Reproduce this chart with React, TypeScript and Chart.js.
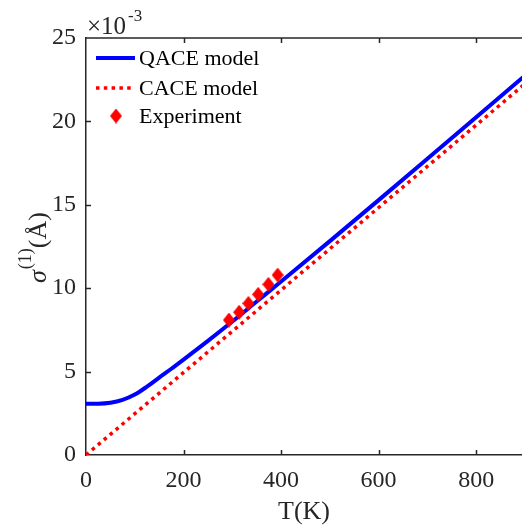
import React, { useEffect, useRef } from 'react';
import { Chart, registerables } from 'chart.js';

Chart.register(...registerables);

// ---- data ----
const qaceT = [0, 25, 50, 75, 100, 125, 150, 175, 200, 250, 300, 350, 400, 500, 600, 700, 800, 900];
const qaceSigma = [3.08, 3.08, 3.13, 3.3, 3.62, 4.1, 4.64, 5.17, 5.72, 6.84, 8.0, 9.2, 10.4, 12.82, 15.28, 17.76, 20.25, 22.75];
const caceT = [0, 900];
const caceSigma = [0, 22.25];
const expT = [293, 314, 333, 353, 374, 393];
const expSigma = [8.09, 8.56, 9.09, 9.63, 10.23, 10.79];
const xTicks = [0, 200, 400, 600, 800];
const yTicks = [0, 5, 10, 15, 20, 25];
const legendLabels = ['QACE model', 'CACE model', 'Experiment'];

const FONT = '"Liberation Serif", "Times New Roman", serif';
const AXIS = '#262626';
const BLUE = '#0000ff';
const RED = '#ff0000';

function makeDiamond(): HTMLCanvasElement {
  const c = document.createElement('canvas');
  const w = 12, h = 15;
  c.width = w; c.height = h;
  const g = c.getContext('2d')!;
  g.fillStyle = RED;
  g.beginPath();
  g.moveTo(w / 2, 0);
  g.lineTo(w, h / 2);
  g.lineTo(w / 2, h);
  g.lineTo(0, h / 2);
  g.closePath();
  g.fill();
  return c;
}

export default function App() {
  const ref = useRef<HTMLCanvasElement>(null);

  useEffect(() => {
    if (!ref.current) return;
    const diamond = makeDiamond();

    const decor = {
      id: 'decor',
      afterDraw(chart: any) {
        const { ctx, chartArea: ca, scales } = chart;
        const xs = scales.x, ys = scales.y;
        ctx.save();
        ctx.strokeStyle = AXIS;
        ctx.lineWidth = 1.5;
        ctx.setLineDash([]);
        // top border
        ctx.beginPath();
        ctx.moveTo(ca.left, ca.top);
        ctx.lineTo(ca.right + 2, ca.top);
        ctx.stroke();
        // inward ticks
        ctx.beginPath();
        xTicks.forEach((v) => {
          if (v === 0) return;
          const px = Math.round(xs.getPixelForValue(v)) + 0.5;
          ctx.moveTo(px, ca.bottom);
          ctx.lineTo(px, ca.bottom - 5);
          ctx.moveTo(px, ca.top);
          ctx.lineTo(px, ca.top + 5);
        });
        yTicks.forEach((v) => {
          if (v === 0 || v === 25) return;
          const py = Math.round(ys.getPixelForValue(v)) + 0.5;
          ctx.moveTo(ca.left, py);
          ctx.lineTo(ca.left + 5, py);
        });
        ctx.stroke();

        // exponent label
        ctx.fillStyle = AXIS;
        ctx.textBaseline = 'alphabetic';
        ctx.textAlign = 'left';
        ctx.font = `25px ${FONT}`;
        ctx.fillText('\u00d710', 87, 34);
        ctx.font = `17px ${FONT}`;
        ctx.fillText('-3', 128, 21);

        // y title
        ctx.save();
        ctx.translate(46, 283);
        ctx.rotate(-Math.PI / 2);
        ctx.font = `italic 26px ${FONT}`;
        let xPos = 0;
        ctx.fillText('\u03c3', xPos, 0);
        xPos += ctx.measureText('\u03c3').width + 1;
        ctx.font = `18px ${FONT}`;
        ctx.fillText('(1)', xPos, -15);
        xPos += ctx.measureText('(1)').width;
        ctx.font = `26px ${FONT}`;
        ctx.fillText('(\u00c5)', xPos, 0);
        ctx.restore();

        // legend
        ctx.font = `22px ${FONT}`;
        ctx.textBaseline = 'middle';
        ctx.fillStyle = '#000';
        const lx0 = 96, lx1 = 135, tx = 139;
        const rows = [58, 88, 116];
        ctx.strokeStyle = BLUE;
        ctx.lineWidth = 4;
        ctx.beginPath();
        ctx.moveTo(lx0, rows[0]);
        ctx.lineTo(lx1, rows[0]);
        ctx.stroke();
        ctx.strokeStyle = RED;
        ctx.lineWidth = 3.5;
        ctx.setLineDash([3.5, 4.3]);
        ctx.beginPath();
        ctx.moveTo(lx0, rows[1]);
        ctx.lineTo(lx1, rows[1]);
        ctx.stroke();
        ctx.setLineDash([]);
        ctx.drawImage(diamond, 116 - diamond.width / 2, rows[2] - diamond.height / 2);
        ctx.fillStyle = '#000';
        legendLabels.forEach((l, i) => ctx.fillText(l, tx, rows[i] + 1));
        ctx.restore();
      },
    };

    const chart = new Chart(ref.current, {
      type: 'scatter',
      data: {
        datasets: [
          {
            label: legendLabels[0],
            data: qaceT.map((t, i) => ({ x: t, y: qaceSigma[i] })),
            showLine: true,
            borderColor: BLUE,
            borderWidth: 4,
            pointRadius: 0,
            cubicInterpolationMode: 'monotone',
            order: 3,
          },
          {
            label: legendLabels[1],
            data: caceT.map((t, i) => ({ x: t, y: caceSigma[i] })),
            showLine: true,
            borderColor: RED,
            borderWidth: 3.5,
            borderDash: [3.5, 4.3],
            pointRadius: 0,
            order: 2,
          },
          {
            label: legendLabels[2],
            data: expT.map((t, i) => ({ x: t, y: expSigma[i] })),
            showLine: false,
            pointStyle: diamond as any,
            pointRadius: 7,
            backgroundColor: RED,
            borderColor: RED,
            order: 1,
          },
        ],
      },
      options: {
        responsive: false,
        animation: false,
        events: [],
        layout: { padding: { top: 38, right: 0, left: 0, bottom: 0 } },
        plugins: { legend: { display: false }, tooltip: { enabled: false } },
        scales: {
          x: {
            type: 'linear',
            min: 0,
            max: 894,
            afterFit: (s: any) => { s.height = 73; },
            afterBuildTicks: (s: any) => { s.ticks = xTicks.map((v) => ({ value: v })); },
            grid: { display: false, drawTicks: false },
            border: { display: true, color: AXIS, width: 1.5 },
            ticks: {
              color: AXIS,
              padding: 11,
              font: { family: FONT, size: 24 },
              maxRotation: 0,
            },
            title: {
              display: true,
              text: 'T(K)',
              color: AXIS,
              font: { family: FONT, size: 26 },
              padding: { top: 0, bottom: 0 },
            },
          },
          y: {
            type: 'linear',
            min: 0,
            max: 25,
            afterFit: (s: any) => { s.width = 86; },
            afterBuildTicks: (s: any) => { s.ticks = yTicks.map((v) => ({ value: v })); },
            grid: { display: false, drawTicks: false },
            border: { display: true, color: AXIS, width: 1.5 },
            ticks: {
              color: AXIS,
              padding: 10,
              font: { family: FONT, size: 24 },
            },
          },
        },
      },
      plugins: [decor],
    });
    return () => chart.destroy();
  }, []);

  return (
    <div style={{ position: 'absolute', left: 0, top: 0, width: 522, height: 528, overflow: 'hidden', background: '#fff' }}>
      <canvas ref={ref} width={530} height={528} style={{ display: 'block' }} />
    </div>
  );
}
